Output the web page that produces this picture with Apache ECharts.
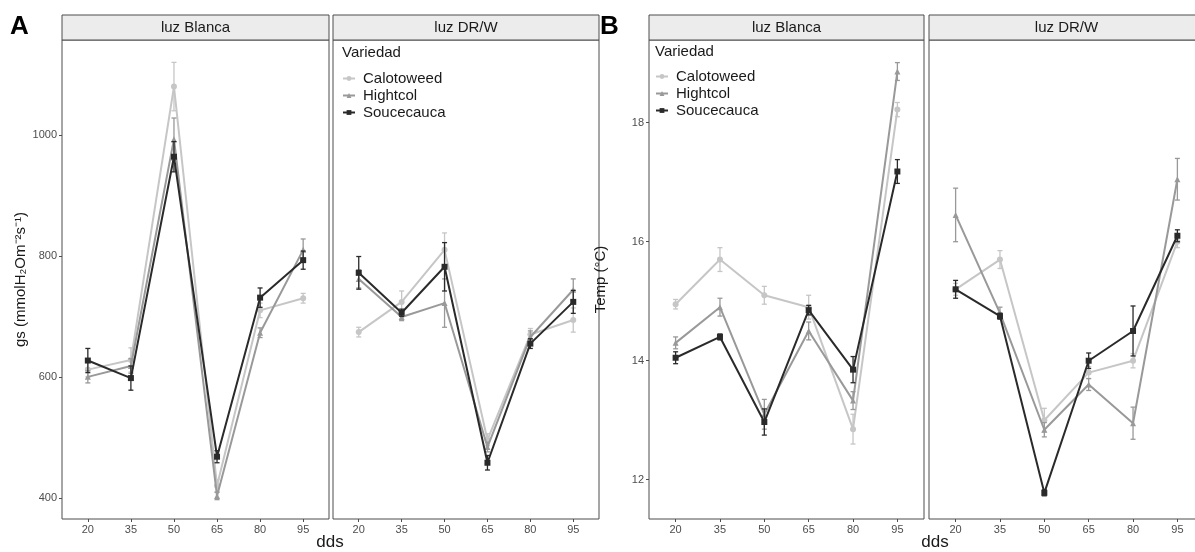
<!DOCTYPE html>
<html>
<head>
<meta charset="utf-8">
<script src="https://cdn.jsdelivr.net/npm/echarts@6/dist/echarts.min.js"></script>
<style>
  html, body { margin: 0; padding: 0; background: #fff; }
  #chart { width: 1195px; height: 552px; }
</style>
</head>
<body>
<div id="chart"></div>
<script>
// dias despues de siembra
var dds = [20, 35, 50, 65, 80, 95];
var variedades = ['Calotoweed', 'Hightcol', 'Soucecauca'];
var facetas = ['luz Blanca', 'luz DR/W'];

// A: gs (media y error)
var gsBlancaCalotoweed = [612, 628, 1080, 420, 710, 730];
var gsBlancaHightcol = [600, 618, 993, 403, 673, 810];
var gsBlancaSoucecauca = [627, 598, 964, 468, 731, 793];
var gsBlancaCalotoweedSe = [12, 20, 40, 10, 12, 8];
var gsBlancaHightcolSe = [10, 12, 35, 6, 8, 18];
var gsBlancaSoucecaucaSe = [20, 20, 25, 10, 16, 15];

var gsDrwCalotoweed = [674, 724, 810, 496, 670, 694];
var gsDrwHightcol = [762, 699, 722, 484, 666, 744];
var gsDrwSoucecauca = [772, 706, 782, 458, 655, 724];
var gsDrwCalotoweedSe = [8, 18, 28, 10, 10, 20];
var gsDrwHightcolSe = [15, 6, 40, 8, 10, 18];
var gsDrwSoucecaucaSe = [27, 6, 40, 12, 8, 19];

// B: temperatura
var tempBlancaCalotoweed = [14.95, 15.7, 15.1, 14.9, 12.85, 18.22];
var tempBlancaHightcol = [14.3, 14.9, 13.1, 14.5, 13.33, 18.86];
var tempBlancaSoucecauca = [14.05, 14.4, 12.97, 14.85, 13.85, 17.18];
var tempBlancaCalotoweedSe = [0.08, 0.2, 0.15, 0.2, 0.25, 0.12];
var tempBlancaHightcolSe = [0.1, 0.15, 0.25, 0.15, 0.15, 0.15];
var tempBlancaSoucecaucaSe = [0.1, 0.05, 0.22, 0.08, 0.22, 0.2];

var tempDrwCalotoweed = [15.2, 15.7, 13.0, 13.8, 14.0, 16.0];
var tempDrwHightcol = [16.45, 14.8, 12.84, 13.6, 12.95, 17.05];
var tempDrwSoucecauca = [15.2, 14.75, 11.78, 14.0, 14.5, 16.1];
var tempDrwCalotoweedSe = [0.1, 0.15, 0.2, 0.1, 0.12, 0.1];
var tempDrwHightcolSe = [0.45, 0.1, 0.12, 0.1, 0.27, 0.35];
var tempDrwSoucecaucaSe = [0.15, 0.05, 0.05, 0.13, 0.42, 0.1];

var gsTicks = [400, 600, 800, 1000];
var tempTicks = [12, 14, 16, 18];

var colores = ['#c6c6c6', '#999999', '#2a2a2a'];
var simbolos = ['circle', 'triangle', 'rect'];
var fuente = 'Liberation Sans, Arial, sans-serif';

// grid i -> medias / errores por variedad
var paneles = [
  { medias: [gsBlancaCalotoweed, gsBlancaHightcol, gsBlancaSoucecauca], se: [gsBlancaCalotoweedSe, gsBlancaHightcolSe, gsBlancaSoucecaucaSe] },
  { medias: [gsDrwCalotoweed, gsDrwHightcol, gsDrwSoucecauca], se: [gsDrwCalotoweedSe, gsDrwHightcolSe, gsDrwSoucecaucaSe] },
  { medias: [tempBlancaCalotoweed, tempBlancaHightcol, tempBlancaSoucecauca], se: [tempBlancaCalotoweedSe, tempBlancaHightcolSe, tempBlancaSoucecaucaSe] },
  { medias: [tempDrwCalotoweed, tempDrwHightcol, tempDrwSoucecauca], se: [tempDrwCalotoweedSe, tempDrwHightcolSe, tempDrwSoucecaucaSe] }
];

var gridPos = [
  { left: 62, top: 40, width: 267, height: 479 },
  { left: 333, top: 40, width: 266, height: 479 },
  { left: 649, top: 40, width: 275, height: 479 },
  { left: 929, top: 40, width: 275, height: 479 }
];

function errorBar(params, api) {
  var x = api.value(0);
  var arriba = api.coord([x, api.value(2)]);
  var abajo = api.coord([x, api.value(1)]);
  var w = 2.5;
  var estilo = { stroke: api.visual('color'), lineWidth: 1.3 };
  return {
    type: 'group',
    children: [
      { type: 'line', shape: { x1: arriba[0], y1: arriba[1], x2: abajo[0], y2: abajo[1] }, style: estilo },
      { type: 'line', shape: { x1: arriba[0] - w, y1: arriba[1], x2: arriba[0] + w, y2: arriba[1] }, style: estilo },
      { type: 'line', shape: { x1: abajo[0] - w, y1: abajo[1], x2: abajo[0] + w, y2: abajo[1] }, style: estilo }
    ]
  };
}

var chartDom = document.getElementById('chart');
var myChart = echarts.init(chartDom);
var option;

var grids = [], xAxes = [], yAxes = [], series = [], graphics = [];

gridPos.forEach(function (g, i) {
  grids.push({
    left: g.left, top: g.top, width: g.width, height: g.height,
    outerBoundsMode: 'none', containLabel: false,
    show: true, borderColor: '#4d4d4d', borderWidth: 1, backgroundColor: '#fff'
  });
  xAxes.push({
    type: 'value', gridIndex: i, min: 11, max: 104,
    axisLine: { show: false },
    axisTick: { show: true, length: 3, customValues: dds, lineStyle: { color: '#4d4d4d' } },
    axisLabel: { customValues: dds, color: '#4d4d4d', fontSize: 11, margin: 5, fontFamily: fuente },
    splitLine: { show: false }
  });
  var esGs = i < 2;
  var primero = i === 0 || i === 2;
  yAxes.push({
    type: 'value', gridIndex: i,
    min: esGs ? 365 : 11.34, max: esGs ? 1157 : 19.39,
    axisLine: { show: false },
    axisTick: { show: primero, length: 3, customValues: esGs ? gsTicks : tempTicks, lineStyle: { color: '#4d4d4d' } },
    axisLabel: {
      show: primero, customValues: esGs ? gsTicks : tempTicks, color: '#4d4d4d', fontSize: 11, margin: 5, fontFamily: fuente,
      formatter: function (v) { return String(v); }
    },
    splitLine: { show: false },
    name: i === 0 ? 'gs (mmolH\u2082Om\u207B\u00B2s\u207B\u00B9)' : (i === 2 ? 'Temp (\u00B0C)' : ''),
    nameLocation: 'middle', nameGap: i === 0 ? 32 : 41,
    nameTextStyle: { fontSize: 15, color: '#1a1a1a', fontFamily: fuente }
  });

  // franja del facet
  graphics.push({
    type: 'rect', shape: { x: g.left, y: 15, width: g.width, height: 25 },
    style: { fill: '#ececec', stroke: '#4d4d4d', lineWidth: 1 }
  });
  graphics.push({
    type: 'text', x: g.left + g.width / 2, y: 28,
    style: { text: facetas[i % 2], fontSize: 15, fill: '#1a1a1a', font: '15px ' + fuente, textAlign: 'center', textVerticalAlign: 'middle' }
  });

  variedades.forEach(function (v, k) {
    var medias = paneles[i].medias[k];
    var se = paneles[i].se[k];
    series.push({
      name: v, type: 'line', xAxisIndex: i, yAxisIndex: i,
      color: colores[k], symbol: simbolos[k], symbolSize: 6, showSymbol: true,
      lineStyle: { width: 2 }, z: 2 + k,
      data: dds.map(function (d, j) { return [d, medias[j]]; })
    });
    series.push({
      name: v, type: 'custom', xAxisIndex: i, yAxisIndex: i,
      renderItem: errorBar, color: colores[k], z: 2 + k,
      data: dds.map(function (d, j) { return [d, medias[j] - se[j], medias[j] + se[j]]; })
    });
  });
});

// etiquetas generales
graphics.push(
  { type: 'text', x: 10, y: 14, style: { text: 'A', font: 'bold 26px ' + fuente, fill: '#000' } },
  { type: 'text', x: 600, y: 14, style: { text: 'B', font: 'bold 26px ' + fuente, fill: '#000' } },
  { type: 'text', x: 330, y: 542, style: { text: 'dds', font: '17px ' + fuente, fill: '#1a1a1a', textAlign: 'center', textVerticalAlign: 'middle' } },
  { type: 'text', x: 935, y: 542, style: { text: 'dds', font: '17px ' + fuente, fill: '#1a1a1a', textAlign: 'center', textVerticalAlign: 'middle' } },
  { type: 'text', x: 342, y: 53, style: { text: 'Variedad', font: '15px ' + fuente, fill: '#1a1a1a', textVerticalAlign: 'middle' } },
  { type: 'text', x: 655, y: 52, style: { text: 'Variedad', font: '15px ' + fuente, fill: '#1a1a1a', textVerticalAlign: 'middle' } }
);

function leyenda(left, top) {
  return {
    data: variedades, orient: 'vertical', left: left, top: top,
    itemWidth: 12, itemHeight: 6, itemGap: 2,
    textStyle: { fontSize: 15, lineHeight: 15, color: '#1a1a1a', fontFamily: fuente, padding: [0, 0, 0, 3] },
    selectedMode: false, padding: 0
  };
}

option = {
  animation: false,
  backgroundColor: '#fff',
  grid: grids,
  xAxis: xAxes,
  yAxis: yAxes,
  legend: [leyenda(342, 71), leyenda(655, 69)],
  graphic: graphics,
  series: series
};
option && myChart.setOption(option);
</script>
</body>
</html>
